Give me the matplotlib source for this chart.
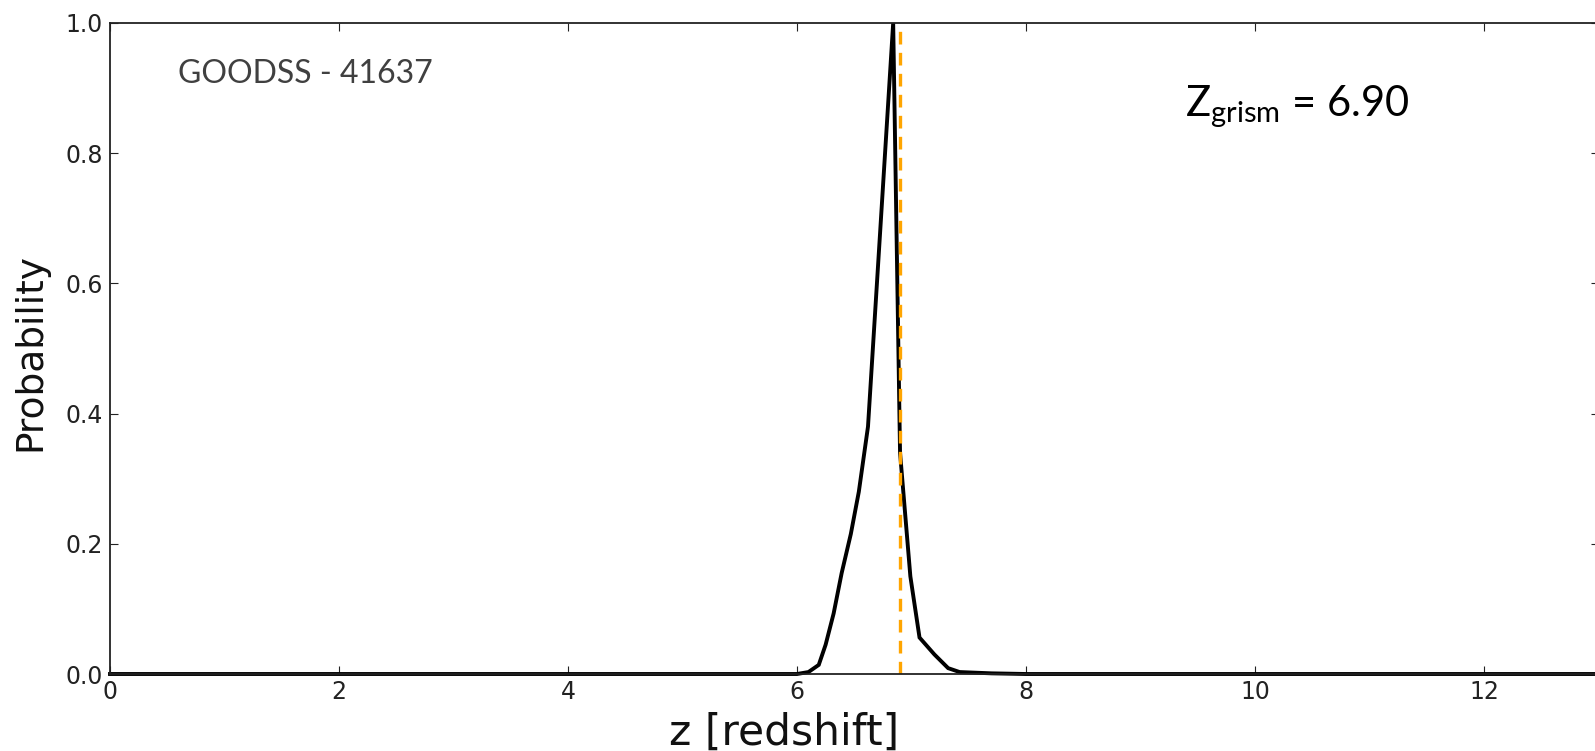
import matplotlib
matplotlib.use("Agg")
import matplotlib.pyplot as plt

# Data
z = [0.0, 6.0, 6.1, 6.19, 6.25, 6.32, 6.39, 6.47, 6.54, 6.62, 6.84, 6.90,
     6.99, 7.07, 7.2, 7.32, 7.42, 7.7, 8.0, 13.0]
prob = [0.0, 0.0, 0.003, 0.014, 0.045, 0.093, 0.155, 0.215, 0.28, 0.38, 1.0,
        0.34, 0.15, 0.056, 0.03, 0.009, 0.003, 0.001, 0.0, 0.0]
z_grism = 6.90
xticks = [0, 2, 4, 6, 8, 10, 12]
yticks = [0.0, 0.2, 0.4, 0.6, 0.8, 1.0]

plt.rcParams['mathtext.fontset'] = 'custom'
plt.rcParams['mathtext.rm'] = 'Lato'
plt.rcParams['mathtext.it'] = 'Lato:italic'

fig = plt.figure(figsize=(15.95, 7.51), dpi=100)
W, H = 1595, 751
ax = fig.add_axes([110 / W, (751 - 674) / H, 13 * 114.5 / W, 651 / H])

ax.plot(z, prob, color='black', lw=2.8, solid_joinstyle='miter', clip_on=False)
ax.axvline(z_grism, color='#FFA500', lw=2.4, linestyle=(0, (3.8, 2.5)))

ax.set_xlim(0, 13)
ax.set_ylim(0, 1.0)
ax.set_xticks(xticks)
ax.set_yticks(yticks)
ax.set_xticklabels([str(t) for t in xticks], fontsize=17)
ax.set_yticklabels([f"{t:.1f}" for t in yticks], fontsize=17)
ax.tick_params(direction='in', length=5.5, width=0.8, top=True, right=True,
               labelsize=17, colors='#222222', pad=5)
ax.tick_params(axis='x', pad=4)
for s in ax.spines.values():
    s.set_linewidth(1.3)
    s.set_color('#222222')

ax.set_xlabel('z [redshift]', fontsize=30.5, color='#111111')
ax.xaxis.set_label_coords((784 - 110) / (13 * 114.5), -0.058)
ax.set_ylabel('Probability', fontsize=27, color='#111111')
ax.yaxis.set_label_coords(-0.0415, 0.495)

fig.text(178 / W, 1 - 74 / H, 'GOODSS - 41637', fontsize=23, color='#404040',
         family='Lato', va='center', ha='left')
fig.text(1185 / W, 1 - 107 / H, r'Z$_{\mathrm{grism}}$ = 6.90', fontsize=30,
         color='black', family='Lato', va='center', ha='left')

fig.savefig('out.png', dpi=100)
